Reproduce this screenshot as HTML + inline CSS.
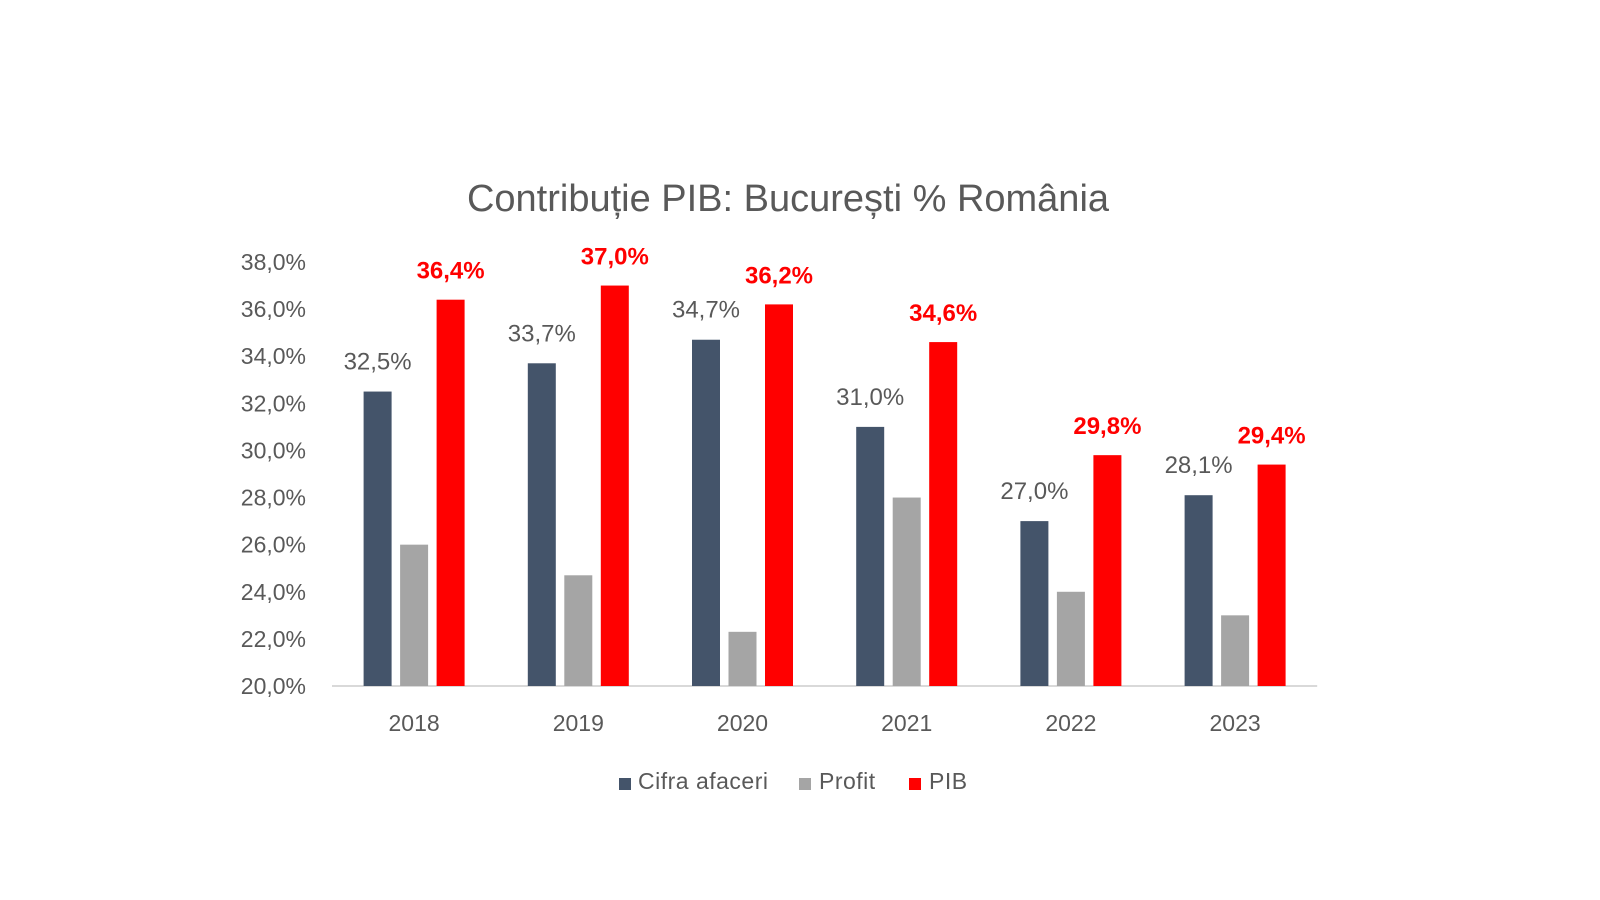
<!DOCTYPE html>
<html><head><meta charset="utf-8"><style>
html,body{margin:0;padding:0;background:#fff;}
svg{display:block;font-family:"Liberation Sans",sans-serif;}
</style></head><body>
<svg id="chart" width="1600" height="900" viewBox="0 0 1600 900">
<text x="788" y="211" text-anchor="middle" font-size="38" fill="#595959">Contribuție PIB: București % România</text>
<g id="grid"></g><g id="bars"></g><g id="labels"></g>
<g>
<g><rect x="619" y="778" width="12" height="12" fill="#44546a"/><text x="638" y="789" font-size="23" letter-spacing="0.5" fill="#595959">Cifra afaceri</text></g>
<g><rect x="799" y="778" width="12" height="12" fill="#a5a5a5"/><text x="819" y="789" font-size="23" letter-spacing="0.5" fill="#595959">Profit</text></g>
<g><rect x="909" y="778" width="12" height="12" fill="#ff0000"/><text x="929" y="789" font-size="23" letter-spacing="0.5" fill="#595959">PIB</text></g>
</g>
</svg>
<script>
const categories=["2018","2019","2020","2021","2022","2023"];
const cifra=[32.5,33.7,34.7,31.0,27.0,28.1];
const profit=[26.0,24.7,22.3,28.0,24.0,23.0];
const pib=[36.4,37.0,36.2,34.6,29.8,29.4];
const ticks=[20,22,24,26,28,30,32,34,36,38];
const NS="http://www.w3.org/2000/svg";
const x0=332,step=164.2,yMin=20,yMax=38,yB=686,yT=262;
const y=v=>yB-(v-yMin)/(yMax-yMin)*(yB-yT);
const gx=i=>x0+step*(i+0.5);
function mk(t,a,p){const e=document.createElementNS(NS,t);for(const k in a)e.setAttribute(k,a[k]);document.getElementById(p).appendChild(e);return e;}
const fmt=v=>v.toFixed(1).replace('.',',')+'%';
ticks.forEach(t=>{const e=mk('text',{x:306,y:y(t)+8,'text-anchor':'end','font-size':23,fill:'#595959'},'grid');e.textContent=fmt(t);

});
const ax=mk('line',{x1:x0,x2:x0+step*6,y1:yB,y2:yB,stroke:'#d9d9d9','stroke-width':2},'grid');


const bw=28,off=36.5;
categories.forEach((c,i)=>{
 const cx=gx(i);
 const lt=mk('text',{x:cx,y:731,'text-anchor':'middle','font-size':23,fill:'#595959'},'labels');lt.textContent=c;
 
 
 [[cifra,'#44546a',-off,'bar-cifra-afaceri'],[profit,'#a5a5a5',0,'bar-profit'],[pib,'#ff0000',off,'bar-pib']].forEach(([arr,col,o,n])=>{
  const r=mk('rect',{x:cx+o-bw/2,y:y(arr[i]),width:bw,height:yB-y(arr[i]),fill:col},'bars');
  
  
 });
 const l1=mk('text',{x:cx-off,y:y(cifra[i])-22,'text-anchor':'middle','font-size':24,fill:'#595959'},'labels');l1.textContent=fmt(cifra[i]);
 
 
 const l2=mk('text',{x:cx+off,y:y(pib[i])-21,'text-anchor':'middle','font-size':24,'font-weight':'bold',fill:'#ff0000'},'labels');l2.textContent=fmt(pib[i]);
 
 
});
</script>
</body></html>
